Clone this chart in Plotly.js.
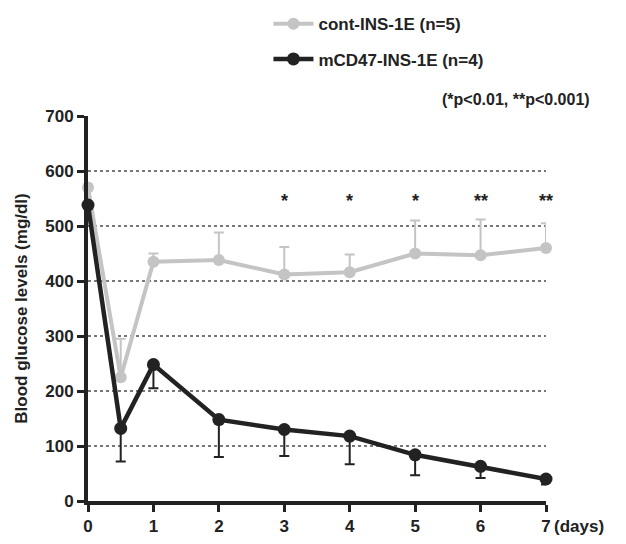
<!DOCTYPE html>
<html><head><meta charset="utf-8">
<script src="https://cdn.plot.ly/plotly-3.0.1.min.js"></script>
<style>body{margin:0;background:#fff}#c{width:626px;height:544px}</style>
</head><body><div id="c"></div>
<script>
const days = [0, 0.5, 1, 2, 3, 4, 5, 6, 7];
const contMean = [570, 225, 435, 438, 412, 416, 450, 447, 460];
const contErrUp = [0, 70, 15, 50, 50, 32, 60, 65, 45];
const mcdMean = [538, 132, 248, 148, 130, 118, 84, 63, 40];
const mcdErrDown = [0, 60, 43, 68, 48, 51, 37, 21, 10];
const starDays = [3, 4, 5, 6, 7];
const starLabels = ['*', '*', '*', '**', '**'];
const starY = 545;
const xTicks = [0, 1, 2, 3, 4, 5, 6, 7];
const yTicks = [0, 100, 200, 300, 400, 500, 600, 700];
const F = 'Liberation Sans, Arial, sans-serif';

const zeros = days.map(() => 0);
const traces = [
  {x: days, y: contMean, name: 'cont-INS-1E (n=5)', legendgroup: 'a', mode: 'lines+markers',
   line: {color: '#c4c4c4', width: 4}, marker: {color: '#c4c4c4', size: 12},
   error_y: {type: 'data', symmetric: false, array: contErrUp, arrayminus: zeros, color: '#c4c4c4', thickness: 2, width: 5},
   cliponaxis: false},
  {x: days, y: mcdMean, name: 'mCD47-INS-1E (n=4)', legendgroup: 'b', mode: 'lines+markers',
   line: {color: '#222', width: 4.5}, marker: {color: '#222', size: 13},
   error_y: {type: 'data', symmetric: false, array: zeros, arrayminus: mcdErrDown, color: '#222', thickness: 2, width: 5},
   cliponaxis: false}
];
const ann = starDays.map((d, i) => ({x: d, y: starY, xref: 'x', yref: 'y', text: starLabels[i], showarrow: false,
  font: {family: F, size: 18, color: '#222', weight: 'bold'}}));
ann.push({x: 1.0, xref: 'paper', xanchor: 'left', xshift: 6, y: 0, yref: 'paper', yanchor: 'top', yshift: -14,
  text: '(days)', showarrow: false, font: {family: F, size: 17, color: '#222', weight: 'bold'}});
ann.push({x: (592-88)/458, xref: 'paper', y: 1.042, yref: 'paper', yanchor: 'middle', text: '(*p<0.01, **p<0.001)', showarrow: false,
  xanchor: 'right', font: {family: F, size: 16, color: '#222', weight: 'bold'}});

const layout = {
  width: 626, height: 544,
  margin: {l: 88, r: 80, t: 116, b: 43, autoexpand: false},
  paper_bgcolor: '#fff', plot_bgcolor: '#fff',
  showlegend: true,
  legend: {x: 0.394, y: 1.285, xanchor: 'left', yanchor: 'top', bgcolor: 'rgba(0,0,0,0)', traceorder: 'grouped',
    font: {family: F, size: 17, color: '#222', weight: 'bold'}, tracegroupgap: 10, itemwidth: 40},
  xaxis: {range: [0, 7], tickvals: xTicks, ticktext: xTicks.map(String), showgrid: false, zeroline: false,
    showline: true, linecolor: '#222', linewidth: 4, ticks: 'outside', ticklen: 7, tickwidth: 3, tickcolor: '#222',
    tickfont: {family: F, size: 17, color: '#222', weight: 'bold'}},
  yaxis: {range: [0, 700], tickvals: yTicks, showgrid: true, gridcolor: '#777', griddash: 'dot', gridwidth: 2,
    zeroline: false, showline: true, linecolor: '#222', linewidth: 4, ticks: 'outside', ticklen: 7, tickwidth: 3, tickcolor: '#222',
    tickfont: {family: F, size: 17, color: '#222', weight: 'bold'},
    title: {text: 'Blood glucose levels (mg/dl)', font: {family: F, size: 17, color: '#222', weight: 'bold'}, standoff: 14}},
  annotations: ann
};
Plotly.newPlot('c', traces, layout, {displayModeBar: false, staticPlot: true});
</script></body></html>
